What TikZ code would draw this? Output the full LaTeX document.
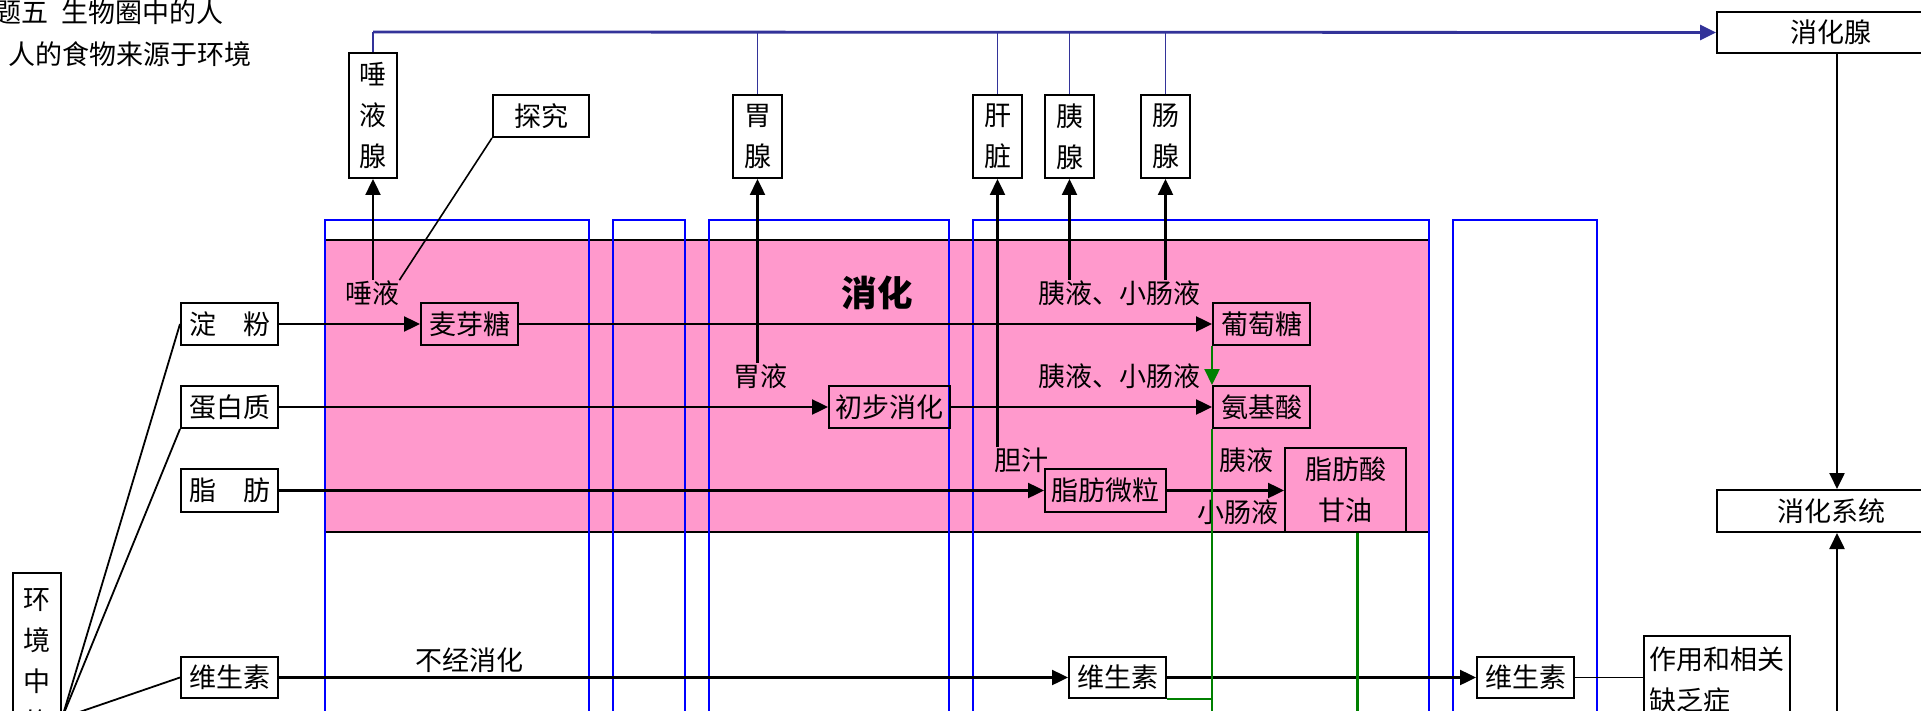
\documentclass[tikz,border=0pt]{standalone}
\usepackage{fontspec}
\setmainfont{Noto Sans CJK SC}
\usetikzlibrary{arrows.meta}
\definecolor{pinkfill}{HTML}{FF99CC}
\definecolor{laneblue}{HTML}{0000FF}
\definecolor{indigo}{HTML}{333399}
\definecolor{dgreen}{HTML}{008000}
\newcommand\mybox[6]{\node[bx, minimum width={(#4-#2)*0.5pt}, minimum height={(#5-#3)*0.5pt}] (#1) at ({(#2+#4)/2},{(#3+#5)/2}) {#6};}
\begin{document}
\begin{tikzpicture}[x=0.5pt,y=-0.5pt,
  font=\fontsize{13.5}{20.5}\selectfont,
  bx/.style={draw=black, line width=1pt, inner sep=0pt, align=center},
  lbl/.style={inner sep=0pt},
  arr/.style={line width=1.2pt, -{Triangle[length=8pt,width=7.5pt]}},
  ln/.style={line width=0.9pt},
  lane/.style={draw=laneblue, line width=1pt},
  grn/.style={draw=dgreen, line width=1.2pt}]
\useasboundingbox (0,0) rectangle (1921,711);
\clip (0,0) rectangle (1921,711);
\fill[white] (0,0) rectangle (1921,711);
% digestion area
\filldraw[fill=pinkfill, draw=black, line width=1.1pt] (325,240) rectangle (1429,532);
% lanes
\draw[lane] (325,760) -- (325,220) -- (589,220) -- (589,760);
\draw[lane] (613,760) -- (613,220) -- (685,220) -- (685,760);
\draw[lane] (709,760) -- (709,220) -- (949,220) -- (949,760);
\draw[lane] (973,760) -- (973,220) -- (1429,220) -- (1429,760);
\draw[lane] (1453,760) -- (1453,220) -- (1597,220) -- (1597,760);
% titles
\node[lbl, anchor=west] (t1) at (-6,12) {题五\hspace{0.5em}生物圈中的人};
\node[lbl, anchor=west] (t2) at (8,54) {人的食物来源于环境};
% boxes
\mybox{sal}{349}{53}{397}{178}{唾\\液\\腺}
\mybox{tj}{493}{95}{589}{137}{探究}
\mybox{wei}{733}{95}{782}{178}{胃\\腺}
\mybox{gan}{973}{95}{1022}{178}{肝\\脏}
\mybox{yi}{1045}{95}{1094}{178}{胰\\腺}
\mybox{chang}{1141}{95}{1190}{178}{肠\\腺}
\mybox{xhx}{1717}{12}{1945}{53}{消化腺}
\mybox{xhxt}{1717}{490}{1945}{532}{消化系统}
\mybox{df}{181}{303}{278}{345}{淀　粉}
\mybox{db}{181}{386}{278}{428}{蛋白质}
\mybox{zf}{181}{469}{278}{512}{脂　肪}
\mybox{ws1}{181}{657}{278}{698}{维生素}
\mybox{my}{421}{303}{518}{345}{麦芽糖}
\mybox{cb}{829}{386}{950}{428}{初步消化}
\mybox{pt}{1213}{303}{1310}{345}{葡萄糖}
\mybox{aj}{1213}{386}{1310}{428}{氨基酸}
\mybox{wl}{1045}{469}{1166}{512}{脂肪微粒}
\mybox{zs}{1285}{448}{1406}{532}{脂肪酸\\甘油}
\mybox{ws2}{1069}{657}{1166}{698}{维生素}
\mybox{ws3}{1477}{657}{1574}{698}{维生素}
\mybox{hj}{13}{573}{61}{749}{环\\境\\中\\的}
\node[bx, align=left, minimum width=73pt, minimum height=44pt] (zy) at (1717,680) {作用和相关\\缺乏症};
% labels
\node[lbl] (ty) at (372,293) {唾液};
\node[lbl] (wy) at (760,376) {胃液};
\node[lbl, font=\fontsize{17.75}{20}\selectfont\bfseries] (xh) at (877,293) {消化};
\node[lbl] (yx1) at (1119,293) {胰液、小肠液};
\node[lbl] (yx2) at (1119,376) {胰液、小肠液};
\node[lbl] (dz) at (1021,460) {胆汁};
\node[lbl] (yy) at (1246,460) {胰液};
\node[lbl] (xc) at (1238,512) {小肠液};
\node[lbl] (bj) at (469,660) {不经消化};
% indigo gland connectors
\coordinate (toprow) at (0,32);
\draw[indigo, line width=0.7pt] (sal.north) -- (sal.north |- toprow);
\draw[indigo, line width=1.4pt, -{Triangle[length=8pt,width=7.5pt]}] (sal.north |- toprow) -- (xhx.west);
\foreach \n in {wei,gan,yi,chang} \draw[indigo, line width=0.7pt] (\n.north) -- (\n.north |- toprow);
% secretions to glands
\draw[arr] (sal.south |- ty.north) -- (sal.south);
\draw[arr] (wei.south |- wy.north) -- (wei.south);
\draw[arr] (gan.south |- dz.north) -- (gan.south);
\draw[arr] (yi.south |- yx1.north) -- (yi.south);
\draw[arr] (chang.south |- yx1.north) -- (chang.south);
\draw[line width=0.8pt] (tj.south west) -- (ty.north east);
% nutrient flows
\draw[arr] (df.east) -- (my.west);
\draw[arr] (my.east) -- (pt.west);
\draw[arr] (db.east) -- (cb.west);
\draw[arr] (cb.east) -- (aj.west);
\draw[arr] (zf.east) -- (wl.west);
\draw[arr] (wl.east) -- (wl.east -| zs.west);
\draw[arr] (ws1.east) -- (ws2.west);
\draw[arr] (ws2.east) -- (ws3.west);
\draw[line width=0.7pt] (ws3.east) -- (ws3.east -| zy.west);
% right column
\draw[arr] ([xshift=3pt]xhx.south) -- ([xshift=3pt]xhxt.north);
\coordinate (xb) at (1837,760);
\draw[arr] (xb) -- (xb |- xhxt.south);
% environment
\coordinate (hjc) at (62,718);
\draw[ln] (hjc) -- (df.west);
\draw[ln] (hjc) -- (db.south west);
\draw[ln] (hjc) -- (ws1.west);
% green absorption lines
\coordinate (gb) at (1213,760);
\draw[grn, -{Triangle[length=8pt,width=7.5pt]}] (pt.south west) -- (aj.north west);
\draw[grn] (aj.south west) -- (aj.south west |- gb);
\draw[grn] ([xshift=6pt]zs.south) -- ([xshift=6pt]zs.south |- gb);
\draw[draw=dgreen, line width=0.7pt] (ws2.south east) -- (ws2.south east -| aj.south west);
\end{tikzpicture}
\end{document}
